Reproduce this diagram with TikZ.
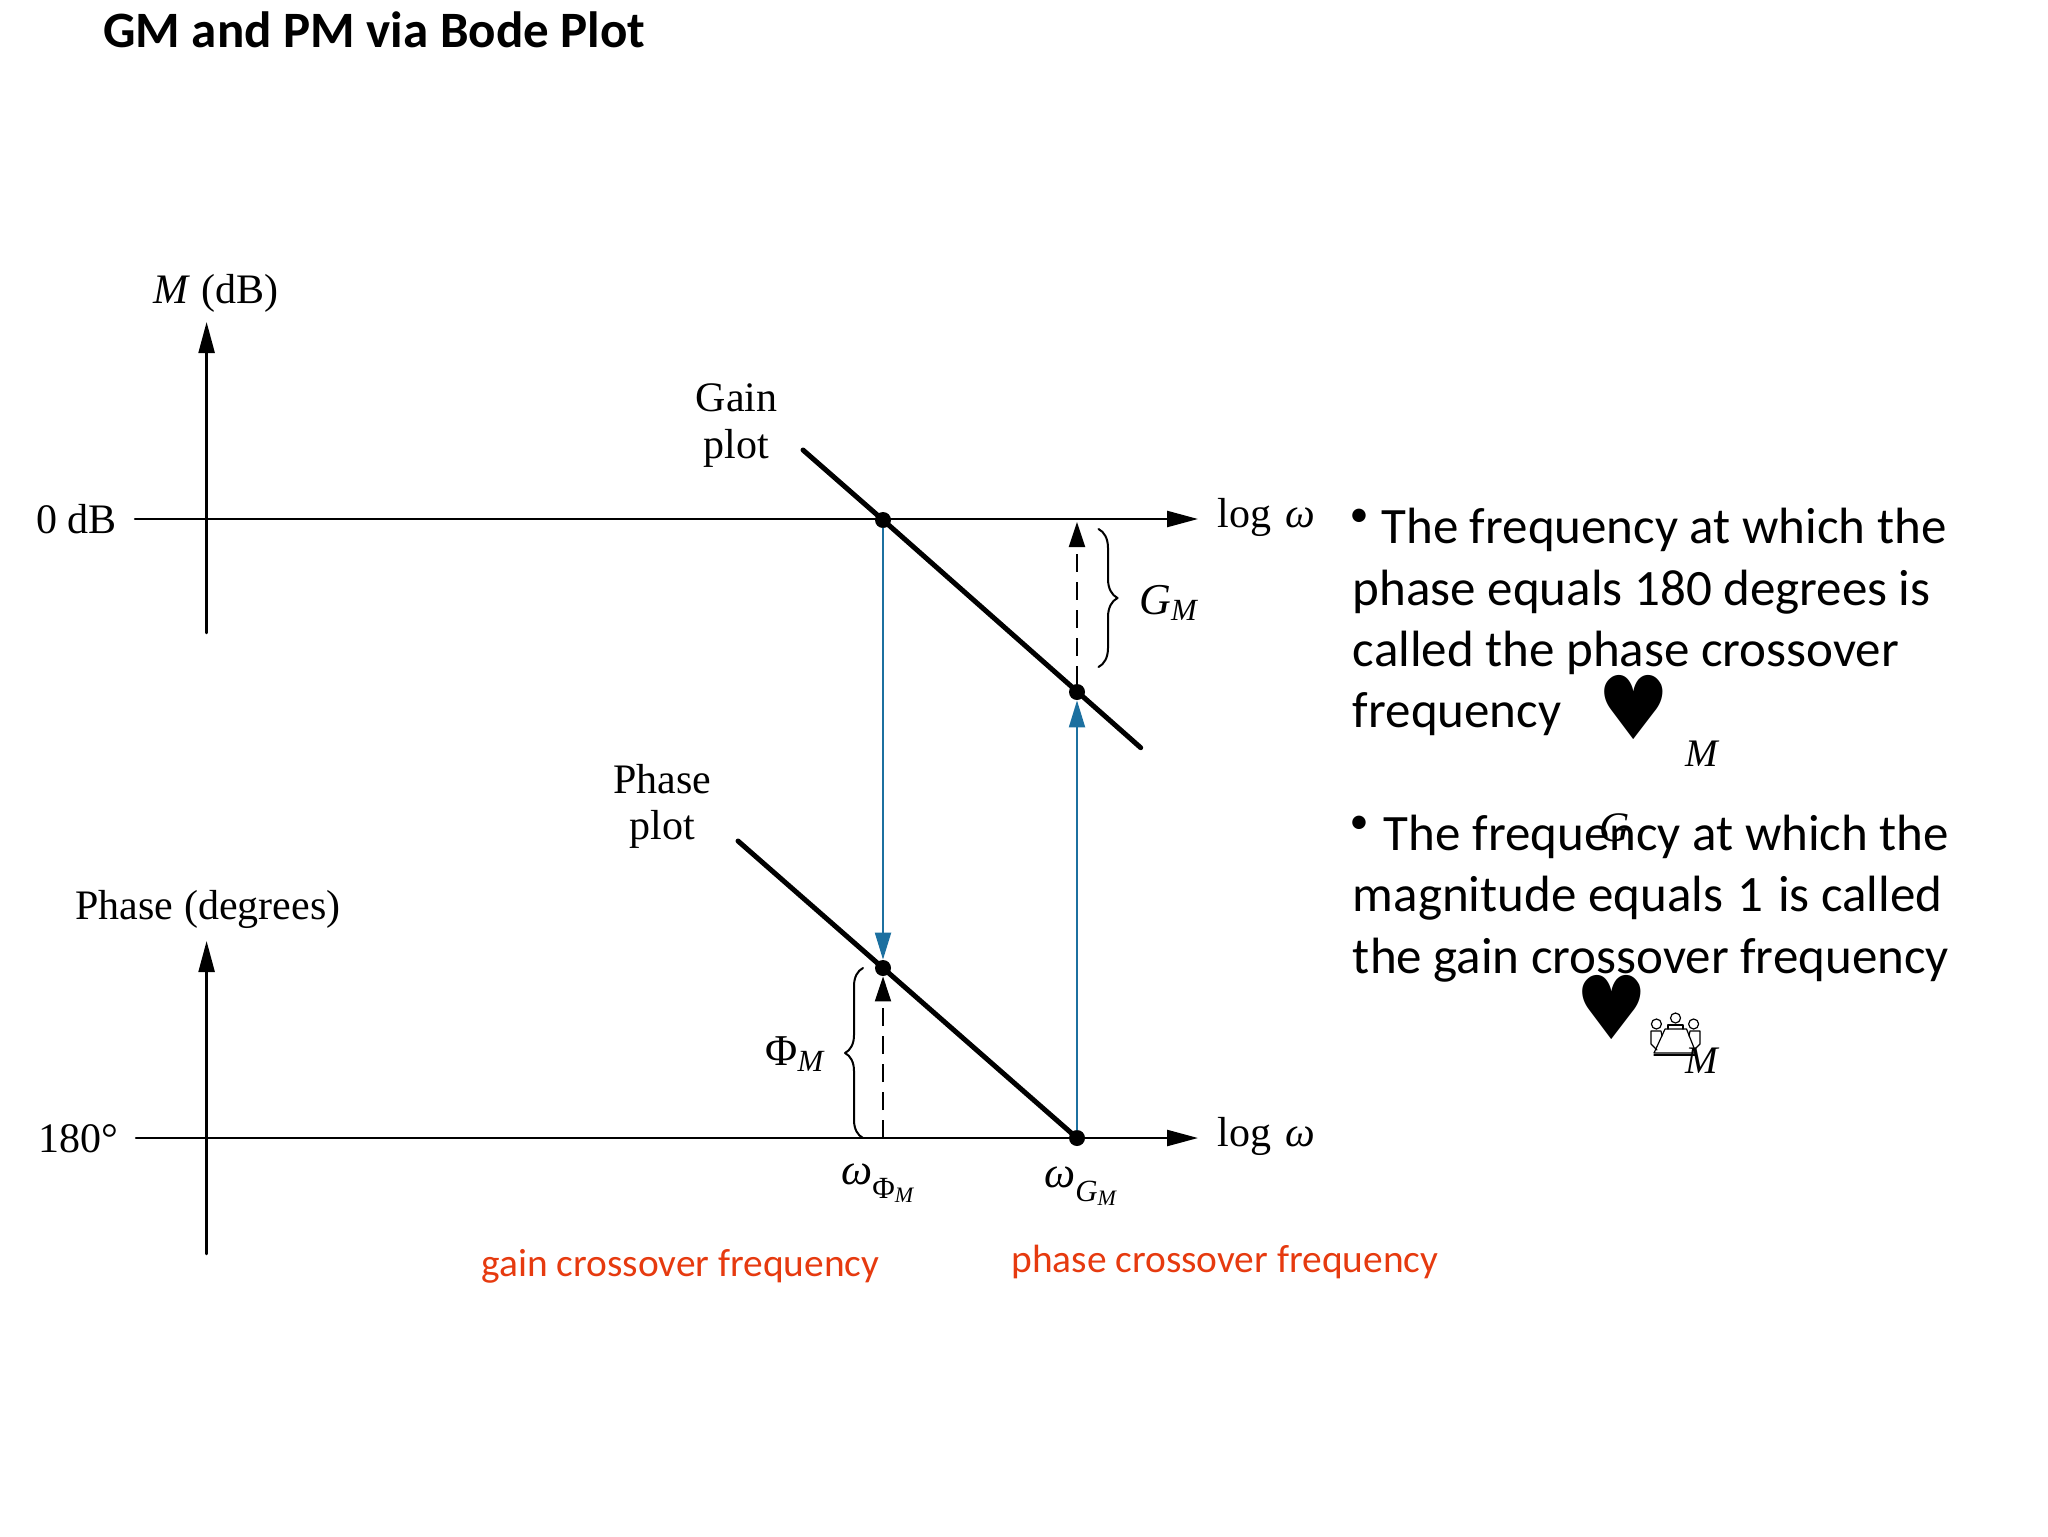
\documentclass[tikz,border=0pt]{standalone}
\usepackage{amsmath}
\usepackage{fontspec}
\setmainfont{Liberation Serif}
\newfontfamily\slidefont{Carlito}
\newfontfamily\symfont{DejaVu Sans}
\usetikzlibrary{arrows.meta,decorations.pathreplacing}
\definecolor{crossblue}{RGB}{28,112,160}
\definecolor{crossred}{RGB}{230,58,15}

\begin{document}
\begin{tikzpicture}[line cap=round,line join=round,x=0.5pt,y=-0.5pt,
  axisline/.style={line width=1.2pt,-{Triangle[length=15.5pt,width=8pt]}},
  plotline/.style={line width=2.5pt},
  crossline/.style={line width=1pt,crossblue,-{Triangle[length=13.5pt,width=8pt]}},
  marginline/.style={line width=1pt,dash pattern=on 9pt off 5pt,line cap=butt,-{Triangle[length=12.5pt,width=8pt]}},
  bracemark/.style={line width=1pt,decorate},
  dotmark/.style={circle,fill=black,inner sep=0pt,minimum size=8pt},
  plotlabel/.style={inner sep=0pt,anchor=base,font=\fontsize{21}{25}\selectfont},
  leftlabel/.style={inner sep=0pt,anchor=base west,font=\fontsize{21}{25}\selectfont},
  mathlabel/.style={inner sep=0pt,anchor=base west,font=\fontsize{22}{26}\selectfont},
  redlabel/.style={inner sep=0pt,anchor=base west,text=crossred,font=\slidefont\fontsize{19.7}{24}\selectfont},
  bodytext/.style={inner sep=0pt,anchor=base west,font=\slidefont\fontsize{25.5}{31}\selectfont},
  bulletmark/.style={inner sep=0pt,font=\slidefont\fontsize{19}{24}\selectfont},
  heartmark/.style={inner sep=0pt,xscale=0.92,transform shape,font=\symfont\fontsize{44}{50}\selectfont},
  strayletter/.style={inner sep=0pt,anchor=base west,font=\itshape\fontsize{19.5}{24}\selectfont},
  people/.style={line width=0.6pt}]
\useasboundingbox (0,0) rectangle (2048,1536);
\node[inner sep=0pt,anchor=base west,font=\slidefont\bfseries\fontsize{25.5}{30}\selectfont] (title) at (103,48) {GM and PM via Bode Plot};
% gain axes
\coordinate (gainbottom) at (206.6,633);
\coordinate (gaintop) at (206.6,322);
\coordinate (zeroleft) at (135,519);
\coordinate (zeroright) at (1198,519);
\draw[axisline] (gainbottom)-- (gaintop);
\draw[axisline] (zeroleft)-- (zeroright);
\node[plotlabel] (mlabel) at (216,303) {\textit{M} (dB)};
\node[leftlabel] (zerolabel) at (36,533) {0 dB};
\node[leftlabel] (logupper) at (1217,527) {log\hspace{7pt}\textit{ω}};
% phase axes
\coordinate (phasebottom) at (206.6,1254);
\coordinate (phasetop) at (206.6,941);
\coordinate (piLeft) at (136,1138);
\coordinate (piRight) at (1198,1138);
\draw[axisline] (phasebottom)-- (phasetop);
\draw[axisline] (piLeft)-- (piRight);
\node[plotlabel] (phaselabel) at (208,919) {Phase (degrees)};
\node[leftlabel] (pilabel) at (38,1152) {180°};
\node[leftlabel] (loglower) at (1217,1146) {log\hspace{7pt}\textit{ω}};
% crossing points
\node[dotmark] (gaincross) at (883,520) {};
\node[dotmark] (gainmargin) at (1077,692) {};
\node[dotmark] (phasemargin) at (883,968) {};
\node[dotmark] (phasecross) at (1077,1138) {};
% plots
\coordinate (gainstart) at (803,450);
\coordinate (gainend) at (1140.7,747.7);
\coordinate (phasestart) at (738,841);
\draw[plotline] (gainstart)-- (gaincross.center)-- (gainend);
\draw[plotline] (phasestart)-- (phasemargin.center)-- (phasecross.center);
\node[plotlabel] (gainword) at (736.5,411) {Gain};
\node[plotlabel] (gainplot) at (736.5,458) {plot};
\node[plotlabel] (phaseword) at (662,793) {Phase};
\node[plotlabel] (phaseplot) at (662,839) {plot};
% blue connectors
\draw[crossline] (gaincross)-- (phasemargin);
\draw[crossline] (phasecross)-- (gainmargin);
% margins
\coordinate (gmtip) at (1077,522);
\coordinate (pmfoot) at (883,1138);
\draw[marginline] (gainmargin)-- (gmtip);
\draw[marginline] (pmfoot)-- (phasemargin);
\coordinate (gmbracetop) at (1098.5,529);
\coordinate (gmbracebot) at (1098.5,667);
\coordinate (pmbracetop) at (863,968);
\coordinate (pmbracebot) at (863,1138);
\draw[bracemark,decoration={brace,amplitude=9.5pt}] (gmbracetop)-- (gmbracebot);
\draw[bracemark,decoration={brace,amplitude=9pt}] (pmbracebot)-- (pmbracetop);
\node[mathlabel] (gmlabel) at (1139,614) {$\textit{G}_{\textit{M}}$};
\node[mathlabel] (pmlabel) at (765,1065) {$\text{Φ}_{\textit{M}}$};
\node[mathlabel] (wpmlabel) at (841,1184) {$\textit{ω}_{\raisebox{-4pt}{$\scriptstyle\text{Φ}_{\textit{M}}$}}$};
\node[mathlabel] (wgmlabel) at (1044,1187) {$\textit{ω}_{\raisebox{-4pt}{$\scriptstyle\textit{G}_{\textit{M}}$}}$};
\node[redlabel] (gainred) at (481,1276) {gain crossover frequency};
\node[redlabel] (phasered) at (1011,1272) {phase crossover frequency};
% bullet text
\node[bulletmark] (bulletone) at (1359,517.5) {•};
\node[bulletmark] (bullettwo) at (1359,825) {•};
\node[bodytext] (lineonea) at (1381,543) {The frequency at which the};
\node[bodytext] (lineoneb) at (1352.5,605) {phase equals 180 degrees is};
\node[bodytext] (lineonec) at (1352.5,666) {called the phase crossover};
\node[bodytext] (lineoned) at (1352.5,727) {frequency};
\node[bodytext] (linetwoa) at (1383.5,850) {The frequency at which the};
\node[bodytext] (linetwob) at (1352.5,911.5) {magnitude equals\hspace{1.5pt} 1\hspace{1.5pt} is called};
\node[bodytext] (linetwoc) at (1352.5,973) {the gain crossover frequency};
% stray glyphs
\node[heartmark] (heartone) at (1634,707) {♥};
\node[heartmark] (hearttwo) at (1612,1007) {♥};
\node[strayletter] (strayone) at (1685,766) {M};
\node[strayletter] (straytwo) at (1685,1073) {M};
\node[strayletter,font=\itshape\fontsize{21}{24}\selectfont] (strayg) at (1599,841) {G};
\draw[people] (1665,1029)-- (1686.5,1029)-- (1696,1053)-- (1654,1053)-- cycle;
\draw[people] (1654,1055)-- (1696,1055);
\draw[people] (1675.5,1018) circle (5);
\draw[people] (1656.4,1024) circle (5);
\draw[people] (1693.6,1024) circle (5);
\draw[people] (1668,1029)-- (1668,1025)-- (1683,1025)-- (1683,1029);
\draw[people] (1657,1050)-- (1651,1044)-- (1651,1031)-- (1661,1031)-- (1662,1036);
\draw[people] (1694,1050)-- (1700,1044)-- (1700,1031)-- (1690,1031)-- (1689,1036);
\end{tikzpicture}
\end{document}
